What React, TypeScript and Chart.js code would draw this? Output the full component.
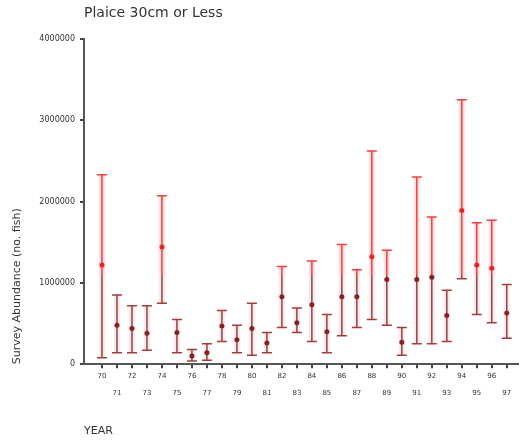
import React, { useEffect, useRef } from "react";
import { Chart, registerables } from "chart.js";

Chart.register(...registerables);

const years = [70, 71, 72, 73, 74, 75, 76, 77, 78, 79, 80, 81, 82, 83, 84, 85, 86, 87, 88, 89, 90, 91, 92, 93, 94, 95, 96, 97];
const means = [1220000, 480000, 440000, 380000, 1440000, 390000, 100000, 140000, 470000, 300000, 440000, 260000, 830000, 510000, 730000, 400000, 830000, 830000, 1320000, 1040000, 270000, 1040000, 1070000, 600000, 1890000, 1220000, 1180000, 630000];
const lows = [80000, 140000, 140000, 170000, 750000, 140000, 40000, 50000, 280000, 140000, 110000, 140000, 450000, 390000, 280000, 140000, 350000, 450000, 550000, 480000, 110000, 250000, 250000, 280000, 1050000, 610000, 510000, 320000];
const highs = [2330000, 850000, 720000, 720000, 2070000, 550000, 180000, 250000, 660000, 480000, 750000, 390000, 1200000, 690000, 1270000, 610000, 1470000, 1160000, 2620000, 1400000, 450000, 2300000, 1810000, 910000, 3250000, 1740000, 1770000, 980000];
const yTicks = [0, 1000000, 2000000, 3000000, 4000000];
const colourSplit = 1100000;

const BRIGHT = "#ff3a3a";
const DARK = "#a83a3a";
const FONT = "'DejaVu Sans', Verdana, sans-serif";

const errorBarPlugin = {
  id: "errorBars",
  beforeDatasetsDraw(chart: any) {
    const { ctx, scales } = chart;
    const xs = scales.x;
    const ys = scales.y;
    const splitPx = ys.getPixelForValue(colourSplit);
    const h = chart.height;
    const mk = (a: string, b: string) => {
      const g = ctx.createLinearGradient(0, 0, 0, h);
      const s = Math.min(Math.max(splitPx / h, 0), 1);
      g.addColorStop(0, a);
      g.addColorStop(s, a);
      g.addColorStop(s, b);
      g.addColorStop(1, b);
      return g;
    };
    const halo = mk("rgba(255,60,60,0.16)", "rgba(150,60,60,0.10)");
    const core = mk(BRIGHT, DARK);
    ctx.save();
    for (let i = 0; i < years.length; i++) {
      const x = xs.getPixelForValue(years[i]);
      const yl = ys.getPixelForValue(lows[i]);
      const yh = ys.getPixelForValue(highs[i]);
      ctx.strokeStyle = halo;
      ctx.lineWidth = 6;
      ctx.beginPath();
      ctx.moveTo(x, yh);
      ctx.lineTo(x, yl);
      ctx.stroke();
      ctx.strokeStyle = core;
      ctx.lineWidth = 1.5;
      ctx.beginPath();
      ctx.moveTo(x, yh);
      ctx.lineTo(x, yl);
      ctx.moveTo(x - 5, yh);
      ctx.lineTo(x + 5, yh);
      ctx.moveTo(x - 5, yl);
      ctx.lineTo(x + 5, yl);
      ctx.stroke();
    }
    ctx.restore();
  },
};

export default function App() {
  const ref = useRef<HTMLCanvasElement>(null);
  useEffect(() => {
    document.body.style.margin = "0";
    const chart = new Chart(ref.current!, {
      type: "line",
      data: {
        datasets: [
          {
            data: years.map((y, i) => ({ x: y, y: means[i] })),
            showLine: false,
            pointRadius: 2.5,
            pointBorderWidth: 0,
            pointBackgroundColor: (c: any) => (means[c.dataIndex] > colourSplit ? "#ff1a1a" : "#8e1f1f"),
          },
        ],
      },
      options: {
        animation: false,
        responsive: false,
        layout: { padding: { left: 8, right: 4, top: 3, bottom: 2 } },
        plugins: {
          legend: { display: false },
          tooltip: { enabled: false },
          title: {
            display: true,
            text: "Plaice 30cm or Less",
            align: "start",
            fullSize: false,
            color: "#333",
            font: { family: FONT, size: 14, weight: "normal" },
            padding: { top: 2, bottom: 17 },
          },
        },
        scales: {
          x: {
            type: "linear",
            min: 68.8,
            max: 97.75,
            afterBuildTicks: (s: any) => {
              s.ticks = years.map((v) => ({ value: v }));
            },
            ticks: {
              autoSkip: false,
              maxRotation: 0,
              color: "#333",
              padding: 0,
              font: { family: FONT, size: 7, lineHeight: 2.4 },
              callback: (v: any) => {
                const s = String(v);
                return Number(v) % 2 === 0 ? [s, ""] : ["", s];
              },
            },
            grid: { drawOnChartArea: false, drawTicks: true, tickLength: 4, color: "#444", lineWidth: 2 },
            border: { display: true, color: "#555", width: 2 },
            title: {
              display: true,
              text: "YEAR",
              align: "start",
              color: "#333",
              font: { family: FONT, size: 11 },
              padding: { top: 23, bottom: 0 },
            },
          },
          y: {
            min: 0,
            max: 4000000,
            afterBuildTicks: (s: any) => {
              s.ticks = yTicks.map((v) => ({ value: v }));
            },
            afterFit: (s: any) => {
              s.width = 76;
            },
            ticks: {
              color: "#333",
              padding: 5,
              font: { family: FONT, size: 8 },
              callback: (v: any) => String(v),
            },
            grid: { drawOnChartArea: false, drawTicks: true, tickLength: 4, color: "#444", lineWidth: 2 },
            border: { display: true, color: "#555", width: 2 },
            title: {
              display: true,
              text: "Survey Abundance (no. fish)",
              align: "start",
              color: "#333",
              font: { family: FONT, size: 11 },
              padding: { top: 3, bottom: 4 },
            },
          },
        },
      },
      plugins: [errorBarPlugin],
    } as any);
    return () => chart.destroy();
  }, []);
  return (
    <div style={{ width: 522, height: 440 }}>
      <canvas ref={ref} width={522} height={440} style={{ display: "block" }} />
    </div>
  );
}
